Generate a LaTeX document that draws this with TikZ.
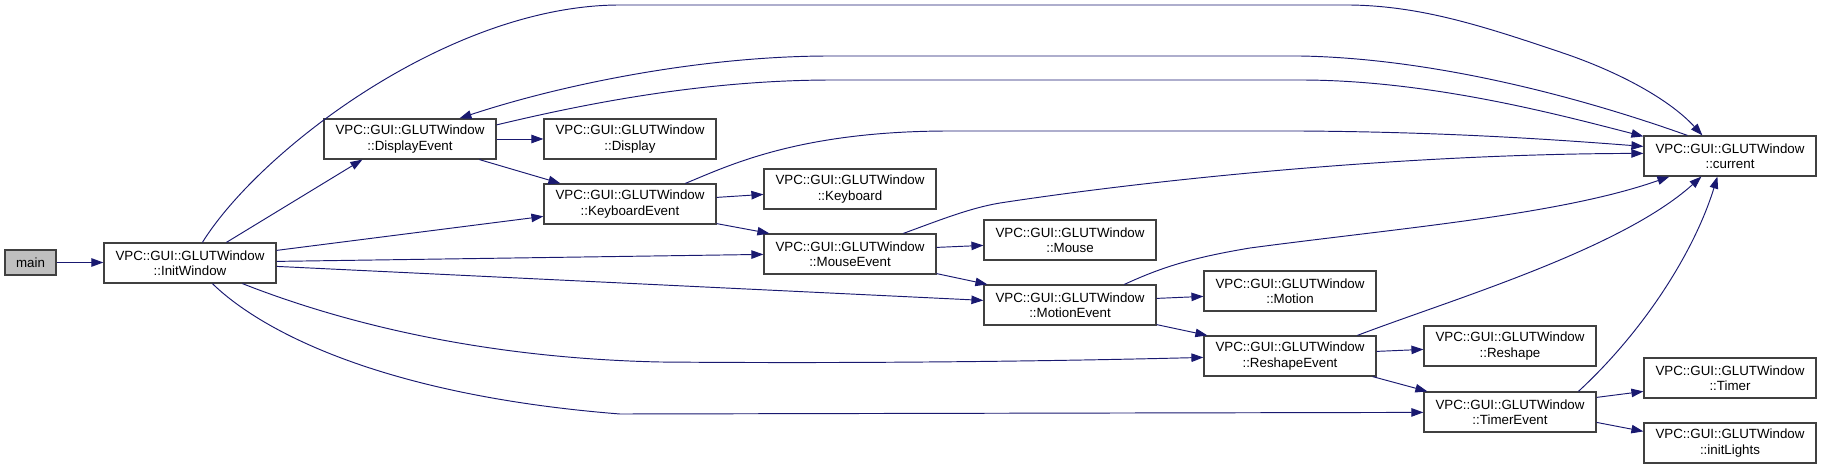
\documentclass[tikz,border=0pt]{standalone}
\usepackage{fontspec}
\setmainfont{Liberation Sans}
\usetikzlibrary{arrows.meta}
\definecolor{edgeblue}{HTML}{191970}
\definecolor{boxgray}{HTML}{404040}
\definecolor{mainfill}{HTML}{BFBFBF}
\begin{document}
\begin{tikzpicture}[x=1pt,y=-1pt,
  fn/.style={draw=boxgray,line width=1.2pt,fill=white,minimum width=172pt,minimum height=40pt,inner sep=0pt,align=center,font=\fontsize{13.33}{15.2}\selectfont},
  mainbox/.style={fn,fill=mainfill,minimum width=51pt,minimum height=25pt},
  call/.style={draw=edgeblue,line width=0.95pt,-{Triangle[length=12pt,width=8.5pt]}},
]
\useasboundingbox (0,0) rectangle (1821,470);
% nodes
\node[mainbox] (main) at (30.5,262.5) {main};
\node[fn] (IW)  at (190,263)  {VPC::GUI::GLUTWindow\\::InitWindow};
\node[fn] (DE)  at (410,139)  {VPC::GUI::GLUTWindow\\::DisplayEvent};
\node[fn] (Dis) at (630,139)  {VPC::GUI::GLUTWindow\\::Display};
\node[fn] (KE)  at (630,204)  {VPC::GUI::GLUTWindow\\::KeyboardEvent};
\node[fn] (Key) at (850,189)  {VPC::GUI::GLUTWindow\\::Keyboard};
\node[fn] (ME)  at (850,254)  {VPC::GUI::GLUTWindow\\::MouseEvent};
\node[fn] (Mou) at (1070,240) {VPC::GUI::GLUTWindow\\::Mouse};
\node[fn] (MoE) at (1070,305) {VPC::GUI::GLUTWindow\\::MotionEvent};
\node[fn] (Mot) at (1290,291) {VPC::GUI::GLUTWindow\\::Motion};
\node[fn] (RE)  at (1290,356) {VPC::GUI::GLUTWindow\\::ReshapeEvent};
\node[fn] (Res) at (1510,346) {VPC::GUI::GLUTWindow\\::Reshape};
\node[fn] (TE)  at (1510,412) {VPC::GUI::GLUTWindow\\::TimerEvent};
\node[fn] (cur) at (1730,156) {VPC::GUI::GLUTWindow\\::current};
\node[fn] (Tim) at (1730,378) {VPC::GUI::GLUTWindow\\::Timer};
\node[fn] (IL)  at (1730,443) {VPC::GUI::GLUTWindow\\::initLights};
% straight edges
\draw[call] (main.east) -- (main.east -| IW.west);
\draw[call] ([shift={(123,0)}]IW.north west) -- ([shift={(39,0)}]DE.south west);
\draw[call] ([shift={(0,8)}]IW.north east) -- ([shift={(0,33)}]KE.north west);
\draw[call] ([shift={(0,19)}]IW.north east) -- ([shift={(0,21)}]ME.north west);
\draw[call] ([shift={(0,24)}]IW.north east) -- ([shift={(0,16)}]MoE.north west);
\draw[call] (DE.east) -- (DE.east -| Dis.west);
\draw[call] ([shift={(156,0)}]DE.south west) -- ([shift={(17,0)}]KE.north west);
\draw[call] ([shift={(0,14)}]KE.north east) -- ([shift={(0,26)}]Key.north west);
\draw[call] ([shift={(0,-1)}]KE.south east) -- ([shift={(6,0)}]ME.north west);
\draw[call] ([shift={(0,14)}]ME.north east) -- ([shift={(0,26)}]Mou.north west);
\draw[call] ([shift={(0,-1)}]ME.south east) -- ([shift={(4,0)}]MoE.north west);
\draw[call] ([shift={(0,14)}]MoE.north east) -- ([shift={(0,26)}]Mot.north west);
\draw[call] ([shift={(0,-1)}]MoE.south east) -- ([shift={(4,0)}]RE.north west);
\draw[call] ([shift={(0,16)}]RE.north east) -- ([shift={(0,24)}]Res.north west);
\draw[call] ([shift={(-4,0)}]RE.south east) -- ([shift={(4,0)}]TE.north west);
\draw[call] ([shift={(0,6)}]TE.north east) -- ([shift={(0,34)}]Tim.north west);
\draw[call] ([shift={(0,31)}]TE.north east) -- ([shift={(0,9)}]IL.north west);
% curved edges from InitWindow
\draw[call] ([shift={(139,0)}]IW.south west) .. controls (340,322) and (480,358) .. (660,362)
  .. controls (900,364) and (1100,360) .. ([shift={(0,22)}]RE.north west);
\draw[call] ([shift={(109,0)}]IW.south west) .. controls (260,330) and (380,395) .. (620,414)
  -- ([shift={(0,21)}]TE.north west);
\draw[call] ([shift={(99,0)}]IW.north west) .. controls (260,150) and (450,5) .. (620,5)
  -- (1350,5) .. controls (1420,6) and (1480,25) .. (1560,52)
  .. controls (1620,72) and (1670,100) .. ([shift={(59,0)}]cur.north west);
% edges around current
\draw[call] ([shift={(44,0)}]cur.north west) .. controls (1560,90) and (1420,58) .. (1300,56)
  -- (830,56) .. controls (700,56) and (560,85) .. ([shift={(136,0)}]DE.north west);
\draw[call] ([shift={(0,6.5)}]DE.north east) .. controls (580,105) and (700,80) .. (833,80)
  -- (1300,80) .. controls (1430,80) and (1560,115) .. ([shift={(0,1)}]cur.north west);
\draw[call] ([shift={(142,0)}]KE.north west) .. controls (730,165) and (800,131) .. (950,131)
  -- (1300,131) .. controls (1450,132) and (1560,140) .. ([shift={(0,11)}]cur.north west);
\draw[call] ([shift={(140,0)}]ME.north west) .. controls (940,220) and (970,208) .. (1000,203)
  .. controls (1150,180) and (1400,154) .. ([shift={(0,18)}]cur.north west);
\draw[call] ([shift={(141,0)}]MoE.north west) .. controls (1160,268) and (1190,258) .. (1250,248)
  .. controls (1400,228) and (1560,215) .. ([shift={(26,0)}]cur.south west);
\draw[call] ([shift={(154,0)}]RE.north west) .. controls (1450,300) and (1620,250) .. ([shift={(58,0)}]cur.south west);
\draw[call] ([shift={(155,0)}]TE.north west) .. controls (1645,330) and (1695,250) .. ([shift={(74,0)}]cur.south west);
\end{tikzpicture}
\end{document}
